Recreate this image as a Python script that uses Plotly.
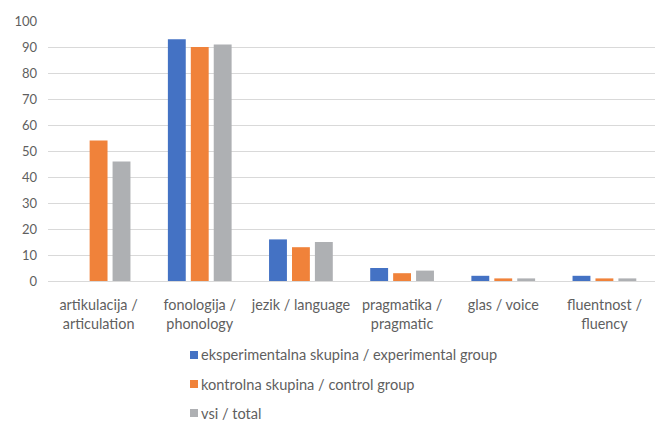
import plotly.graph_objects as go

categories = ["artikulacija /<br>articulation", "fonologija /<br>phonology", "jezik / language",
              "pragmatika /<br>pragmatic", "glas / voice", "fluentnost /<br>fluency"]
experimental = [0, 93, 16, 5, 2, 2]
control = [54, 90, 13, 3, 1, 1]
total = [46, 91, 15, 4, 1, 1]

series = [
    ("eksperimentalna skupina / experimental group", experimental, "#4472C4"),
    ("kontrolna skupina / control group", control, "#F0823A"),
    ("vsi / total", total, "#AEB0B3"),
]

W, H = 657, 421
ML, MR, MT, MB = 48, 2, 21, 140
PW, PH = W - ML - MR, H - MT - MB
TEXT = "#5f5f5f"
FONT = "Lato, Open Sans, sans-serif"

def px_to_paper(px, py):
    return (px - ML) / PW, (H - MB - py) / PH

fig = go.Figure()
for name, vals, color in series:
    fig.add_trace(go.Bar(x=categories, y=vals, name=name, marker_color=color,
                         marker_line_width=0, showlegend=False))

# Legend drawn as a vertical list below the plot: small square key + label
shapes, annotations = [], []
for i, (name, _, color) in enumerate(series):
    cy = 355 + 29 * i
    x0, y0 = px_to_paper(190, cy + 4)
    x1, y1 = px_to_paper(198, cy - 4)
    shapes.append(dict(type="rect", xref="paper", yref="paper", x0=x0, y0=y0, x1=x1, y1=y1,
                       fillcolor=color, line_width=0))
    tx, ty = px_to_paper(199, cy)
    annotations.append(dict(xref="paper", yref="paper", x=tx, y=ty, xanchor="left",
                            yanchor="middle", text=name, showarrow=False,
                            font=dict(family=FONT, size=14.6, color=TEXT)))

fig.update_layout(
    width=W, height=H,
    margin=dict(l=ML, r=MR, t=MT, b=MB),
    paper_bgcolor="white", plot_bgcolor="white",
    barmode="group", bargap=0.32, bargroupgap=0.22,
    font=dict(family=FONT, size=13, color=TEXT),
    yaxis=dict(range=[0, 100], dtick=10, gridcolor="#D9D9D9", gridwidth=1,
               zeroline=True, zerolinecolor="#D9D9D9", zerolinewidth=1,
               ticks="", ticklabelstandoff=10, tickfont=dict(size=13, color=TEXT)),
    xaxis=dict(showline=False, ticks="", ticklabelstandoff=14,
               tickfont=dict(size=14.4, color=TEXT)),
    shapes=shapes,
    annotations=annotations,
    showlegend=False,
)

fig.write_html("out.html")
